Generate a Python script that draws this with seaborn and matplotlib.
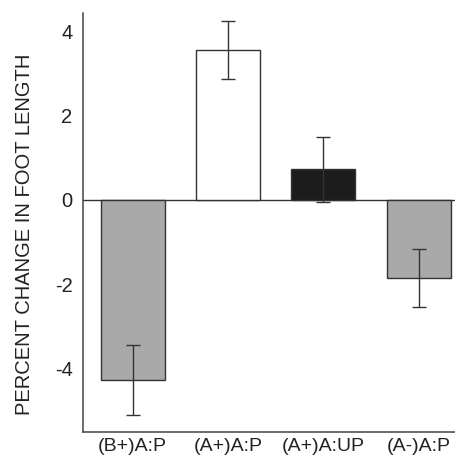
import matplotlib
matplotlib.use("Agg")
import matplotlib.pyplot as plt
import seaborn as sns
import pandas as pd

categories = ["(B+)A:P", "(A+)A:P", "(A+)A:UP", "(A-)A:P"]
values = [-4.29, 3.57, 0.73, -1.85]
errors = [0.83, 0.69, 0.78, 0.69]
colors = ["#a9a9a9", "#ffffff", "#1c1c1c", "#a9a9a9"]
yticks = [-4, -2, 0, 2, 4]

sns.set_style("white")
plt.rcParams["font.family"] = ["Liberation Sans", "DejaVu Sans"]

df = pd.DataFrame({"group": categories, "value": values})

fig = plt.figure(figsize=(4.56, 4.57), dpi=100)
ax = fig.add_axes([0.182, 0.0547, 0.818, 0.917])

sns.barplot(data=df, x="group", y="value", hue="group", palette=colors,
            legend=False, errorbar=None, width=0.67, edgecolor="#333333",
            linewidth=1.0, ax=ax, saturation=1)

ax.errorbar(range(len(categories)), values, yerr=errors, fmt="none",
            ecolor="#333333", elinewidth=1.0, capsize=5, capthick=1.0)

ax.axhline(0, color="#333333", lw=1.0, zorder=0.5)

ax.set_xlim(-0.52, 3.39)
ax.set_ylim(-5.52, 4.45)
ax.set_yticks(yticks)
ax.set_yticklabels([str(t) for t in yticks], fontsize=14.5)
ax.tick_params(axis="y", direction="in", length=7, width=0.8, color="#666666",
               pad=7.5, labelcolor="#222222")
ax.tick_params(axis="x", length=0, pad=4, labelsize=14, labelcolor="#222222")
ax.set_xlabel("")
ax.set_ylabel("PERCENT CHANGE IN FOOT LENGTH", fontsize=14.5, color="#222222")
ax.yaxis.set_label_coords(-0.131, 0.4726)

for s in ["top", "right"]:
    ax.spines[s].set_visible(False)
for s in ["left", "bottom"]:
    ax.spines[s].set_color("#444444")
    ax.spines[s].set_linewidth(1.1)

fig.savefig("out.png", dpi=100)
